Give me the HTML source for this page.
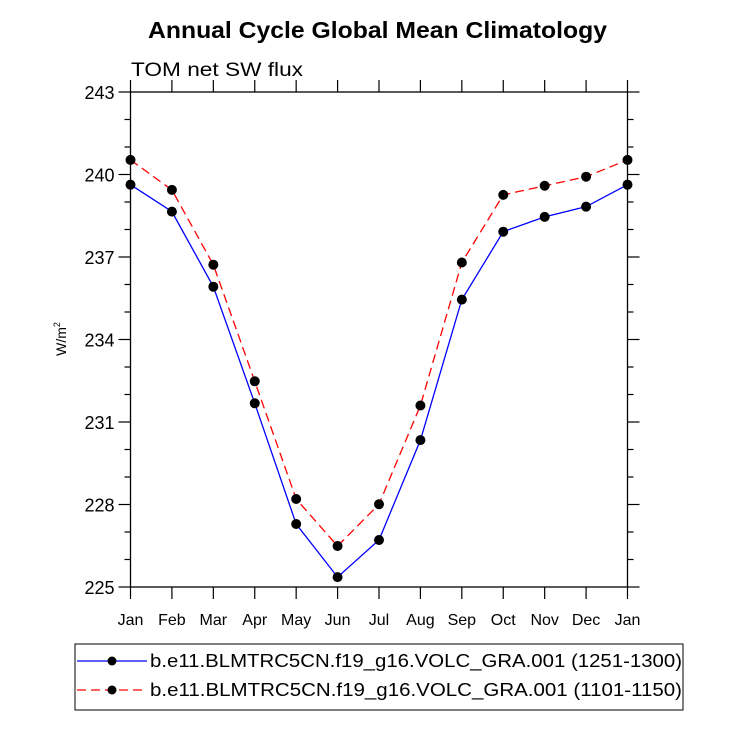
<!DOCTYPE html>
<html><head><meta charset="utf-8"><style>body{margin:0;background:#fff}svg{display:block}text{font-family:"Liberation Sans",Arial,sans-serif}</style></head>
<body>
<svg id="c" width="730" height="730" viewBox="0 0 730 730">
<text x="148" y="38" textLength="459" lengthAdjust="spacingAndGlyphs" font-size="23" font-weight="bold">Annual Cycle Global Mean Climatology</text>
<text x="131" y="76" textLength="172" lengthAdjust="spacingAndGlyphs" font-size="19">TOM net SW flux</text>
<text transform="translate(66,339) rotate(-90)" text-anchor="middle" font-size="14">W/m<tspan font-size="9" dy="-6">2</tspan></text>
<g id="axes"></g><g id="series"></g>
<g>
<rect x="75" y="644" width="608" height="66" fill="none" stroke="#000" stroke-width="1"/>
<g>
<line x1="77" y1="661" x2="147" y2="661" stroke="#00f" stroke-width="1.2"/><circle cx="112" cy="661" r="4.5"/>
<text x="150" y="667" textLength="532" lengthAdjust="spacingAndGlyphs" font-size="18">b.e11.BLMTRC5CN.f19_g16.VOLC_GRA.001 (1251-1300)</text></g>
<g>
<line x1="77" y1="690" x2="147" y2="690" stroke="#f00" stroke-width="1.2" stroke-dasharray="9,5"/><circle cx="112" cy="690" r="4.5"/>
<text x="150" y="696" textLength="532" lengthAdjust="spacingAndGlyphs" font-size="18">b.e11.BLMTRC5CN.f19_g16.VOLC_GRA.001 (1101-1150)</text></g>
</g>
</svg>
<script>
const months=["Jan","Feb","Mar","Apr","May","Jun","Jul","Aug","Sep","Oct","Nov","Dec","Jan"];
const blueVals=[239.63,238.65,235.92,231.68,227.29,225.36,226.71,230.34,235.45,237.92,238.46,238.83,239.63];
const redVals=[240.53,239.44,236.72,232.48,228.2,226.49,228.01,231.6,236.8,239.26,239.59,239.92,240.53];
const yTicks=[225,228,231,234,237,240,243];
const L=130.5,R=627.5,T=92,B=587,YMIN=225,YMAX=243;
const xs=i=>L+(R-L)*i/(months.length-1);
const ys=v=>B-(B-T)*(v-YMIN)/(YMAX-YMIN);
const NS="http://www.w3.org/2000/svg";
function mk(t,a,p){const e=document.createElementNS(NS,t);for(const k in a)e.setAttribute(k,a[k]);p.appendChild(e);return e;}
const ax=document.getElementById('axes');
const box=mk('rect',{x:L,y:T,width:R-L,height:B-T,fill:'none',stroke:'#000','stroke-width':1.3},ax);


for(let v=YMIN;v<=YMAX;v++){const maj=(v-YMIN)%3===0,len=maj?12:6,y=ys(v);
mk('line',{x1:L-len,y1:y,x2:L,y2:y,stroke:'#000','stroke-width':1.2},ax);
mk('line',{x1:R,y1:y,x2:R+len,y2:y,stroke:'#000','stroke-width':1.2},ax);}
yTicks.forEach(v=>{const t=mk('text',{x:L-16,y:ys(v)+7,'text-anchor':'end','font-size':18},ax);t.textContent=v;

});
months.forEach((m,i)=>{const x=xs(i);
mk('line',{x1:x,y1:B,x2:x,y2:B+12,stroke:'#000','stroke-width':1.2},ax);
mk('line',{x1:x,y1:T-12,x2:x,y2:T,stroke:'#000','stroke-width':1.2},ax);
const t=mk('text',{x:x,y:B+38,'text-anchor':'middle','font-size':16},ax);t.textContent=m;

});
const sg=document.getElementById('series');
function series(vals,col,dash,name){const g=mk('g',{},sg);


mk('polyline',{points:vals.map((v,i)=>xs(i)+','+ys(v)).join(' '),fill:'none',stroke:col,'stroke-width':1.3,'stroke-dasharray':dash},g);
vals.forEach((v,i)=>{const c=mk('circle',{cx:xs(i),cy:ys(v),r:5},g);

});}
series(redVals,'#f00','9,5','series-1101-1150');
series(blueVals,'#00f','none','series-1251-1300');
</script>
</body></html>
